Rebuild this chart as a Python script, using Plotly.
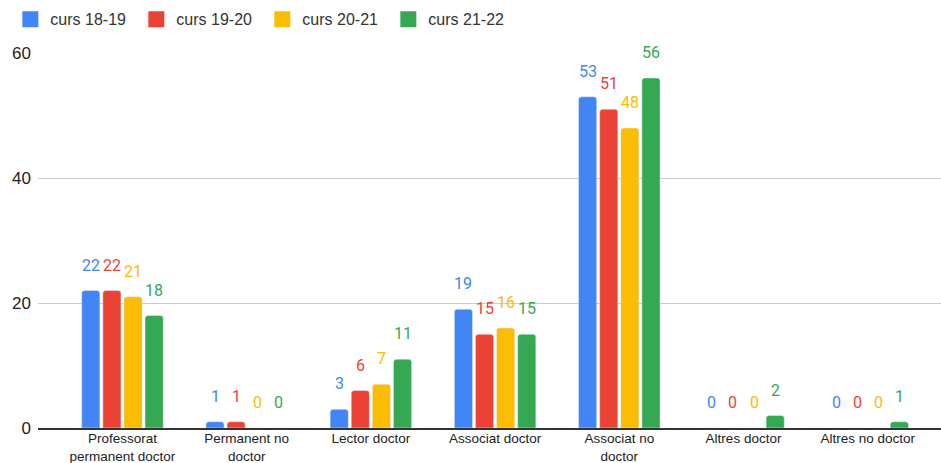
import plotly.graph_objects as go

categories = ['Professorat<br>permanent doctor', 'Permanent no<br>doctor', 'Lector doctor',
              'Associat doctor', 'Associat no<br>doctor', 'Altres doctor', 'Altres no doctor']
series_names = ['curs 18-19', 'curs 19-20', 'curs 20-21', 'curs 21-22']
curs_18_19 = [22, 1, 3, 19, 53, 0, 0]
curs_19_20 = [22, 1, 6, 15, 51, 0, 0]
curs_20_21 = [21, 0, 7, 16, 48, 0, 0]
curs_21_22 = [18, 0, 11, 15, 56, 2, 1]
colors = ['#4285F4', '#EA4335', '#FBBC04', '#34A853']

all_values = [curs_18_19, curs_19_20, curs_20_21, curs_21_22]
xs = list(range(len(categories)))
bargap = 0.32
slot = (1 - bargap) / len(all_values)

fig = go.Figure()
annotations = []
for j, (name, vals, col) in enumerate(zip(series_names, all_values, colors)):
    fig.add_trace(go.Bar(x=xs, y=vals, name=name, marker=dict(color=col, cornerradius=3),
                         showlegend=False, hoverinfo='y'))
    # legend entry with bigger square
    fig.add_trace(go.Scatter(x=[None], y=[None], mode='markers', name=name,
                             marker=dict(symbol='square', size=16, color=col)))
    for i, v in zip(xs, vals):
        annotations.append(dict(x=i + (j - 1.5) * slot, y=v, xref='x', yref='y', text=str(v),
                                showarrow=False, yanchor='bottom', yshift=14,
                                font=dict(size=16, color=col, family='Roboto')))

fig.update_layout(
    width=941, height=463,
    margin=dict(l=38, r=0, t=53, b=35, autoexpand=False),
    barmode='group', bargap=bargap, bargroupgap=0.14,
    plot_bgcolor='white', paper_bgcolor='white',
    font=dict(family='Arial', color='#222222'),
    annotations=annotations,
    legend=dict(orientation='h', xref='container', yref='container', x=0.011, y=0.995,
                xanchor='left', yanchor='top', font=dict(size=16, color='#333333'),
                entrywidth=81, entrywidthmode='pixels', itemclick=False),
)
fig.update_xaxes(tickvals=xs, ticktext=categories, range=[-0.68, 6.59],
                 showgrid=False, showline=True, linecolor='#333333', linewidth=1.5,
                 tickfont=dict(size=13.5, color='#222222'), zeroline=False, automargin=False,
                 ticklabelstandoff=-3)
fig.update_yaxes(range=[0, 60], tickvals=[0, 20, 40, 60], showgrid=True, gridcolor='#cccccc',
                 zeroline=False, tickfont=dict(size=17, color='#222222'), ticklabelstandoff=6,
                 automargin=False)

# page body has a default 8px margin, drop it so the chart sits at 0,0
fig.write_html("out.html", config={'displayModeBar': False},
               post_script="document.body.style.margin='0px';")
